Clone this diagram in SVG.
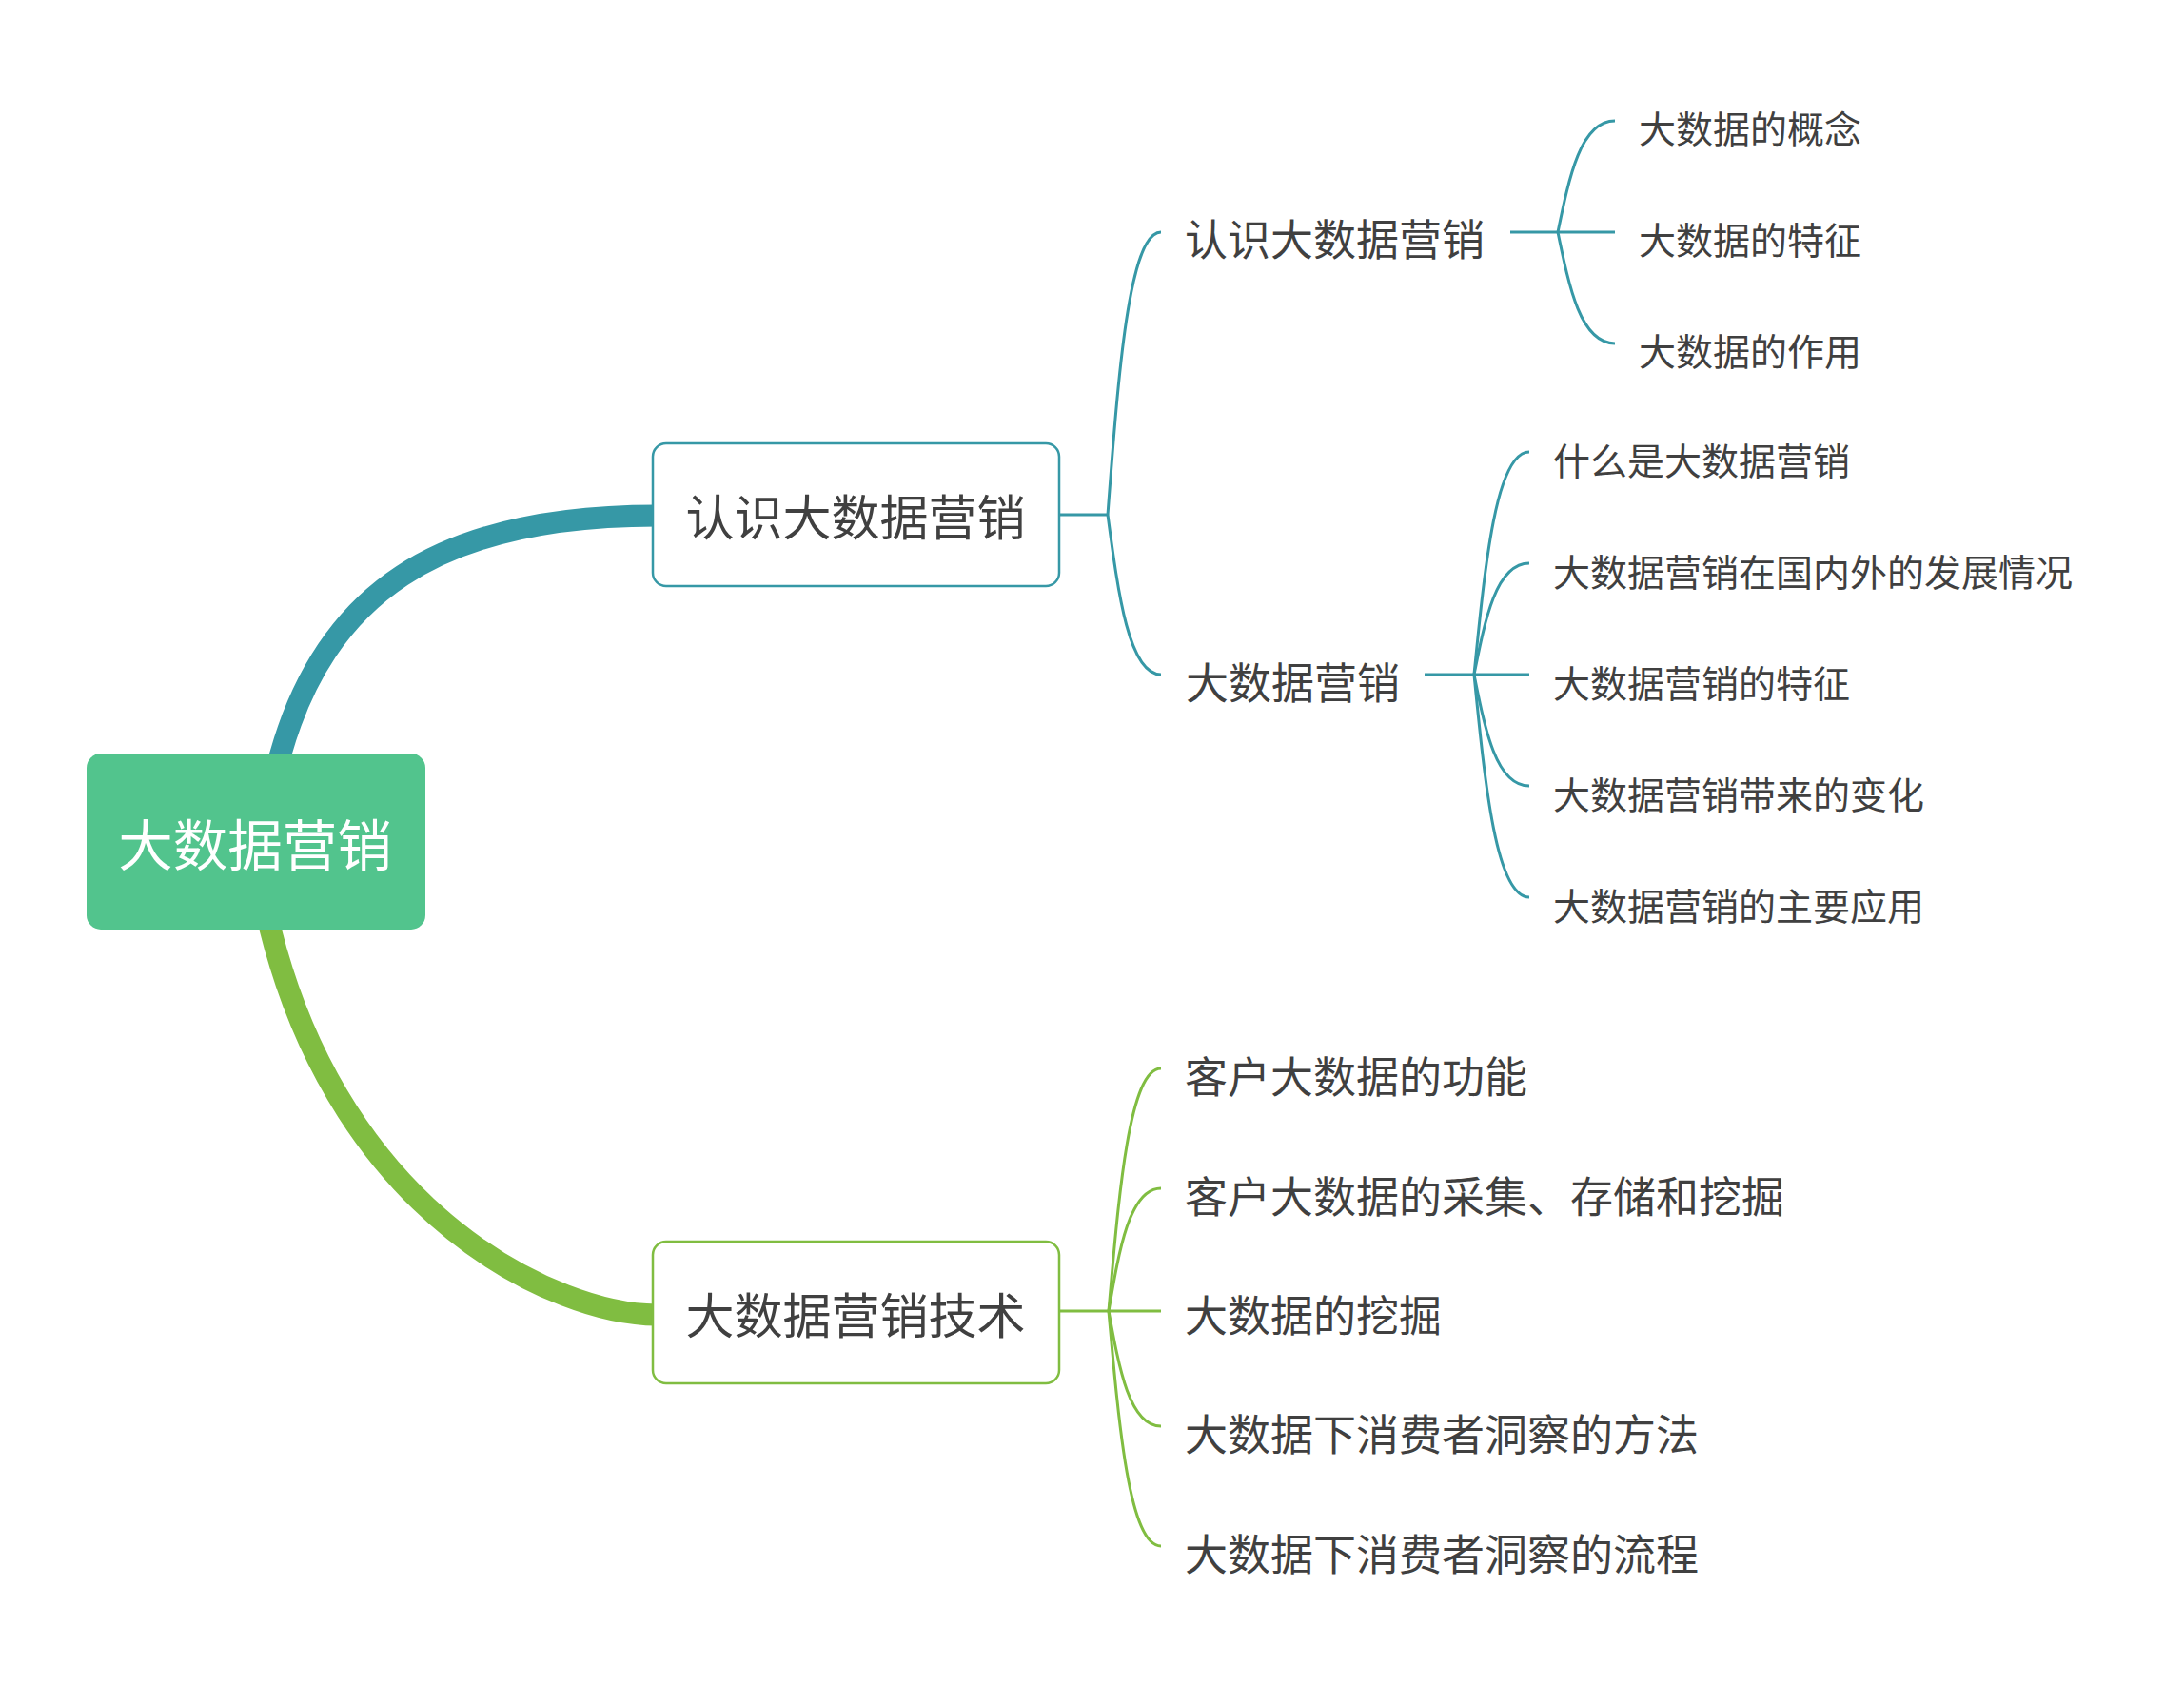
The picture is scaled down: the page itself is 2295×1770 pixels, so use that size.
<svg xmlns="http://www.w3.org/2000/svg" width="2295" height="1770" viewBox="0 0 2295 1770">
<style>
text{font-family:'Noto Sans CJK SC','Noto Sans',sans-serif;fill:#404040}
.t{stroke:#3698A6;fill:none;stroke-width:3}
.g{stroke:#80BD41;fill:none;stroke-width:3}
.l1{font-size:51px;text-anchor:middle}
.l2{font-size:45px}
.l3{font-size:39px}
</style>
<rect width="2295" height="1770" fill="#ffffff"/>
<g id="connectors">
<path d="M292 802 L295 792 C342 627 456 542 690 542" fill="none" stroke="#3698A6" stroke-width="23"/>
<path d="M282 968 L284 976 C360 1280 586 1382 690 1382" fill="none" stroke="#80BD41" stroke-width="23"/>
<path class="t" d="M1113 541 L1164 541"/>
<path class="t" d="M1164 541 C1175.2 392.5 1186.4 244 1220 244"/>
<path class="t" d="M1164 541 C1175.2 625 1186.4 709 1220 709"/>
<path class="t" d="M1587 244 L1697 244"/>
<path class="t" d="M1637 244 C1649 185.5 1661 127 1697 127"/>
<path class="t" d="M1637 244 C1649 302.5 1661 361 1697 361"/>
<path class="t" d="M1497 709 L1607 709"/>
<path class="t" d="M1549 709 C1560.6 592 1572.2 475 1607 475"/>
<path class="t" d="M1549 709 C1560.6 650.5 1572.2 592 1607 592"/>
<path class="t" d="M1549 709 C1560.6 767.5 1572.2 826 1607 826"/>
<path class="t" d="M1549 709 C1560.6 826 1572.2 943 1607 943"/>
<path class="g" d="M1113 1378 L1220 1378"/>
<path class="g" d="M1165 1378 C1176 1250.5 1187 1123 1220 1123"/>
<path class="g" d="M1165 1378 C1176 1313.5 1187 1249 1220 1249"/>
<path class="g" d="M1165 1378 C1176 1438.5 1187 1499 1220 1499"/>
<path class="g" d="M1165 1378 C1176 1501.5 1187 1625 1220 1625"/>
</g>
<g id="root">
<rect x="91" y="792" width="356" height="185" rx="15" fill="#52C48D"/>
<text x="268" y="910" font-size="57.5" text-anchor="middle" style="fill:#ffffff">大数据营销</text>
</g>
<g id="n1">
<rect x="686" y="466" width="427" height="150" rx="14" fill="#ffffff" stroke="#3698A6" stroke-width="2.5"/>
<text class="l1" x="899" y="563">认识大数据营销</text>
</g>
<g id="n2">
<rect x="686" y="1305" width="427" height="149" rx="14" fill="#ffffff" stroke="#80BD41" stroke-width="2.5"/>
<text class="l1" x="899" y="1402">大数据营销技术</text>
</g>
<g id="n1a"><text class="l2" x="1245" y="269">认识大数据营销</text></g>
<g id="n1b"><text class="l2" x="1246" y="735">大数据营销</text></g>
<g id="n1a1"><text class="l3" x="1722" y="150">大数据的概念</text></g>
<g id="n1a2"><text class="l3" x="1722" y="267">大数据的特征</text></g>
<g id="n1a3"><text class="l3" x="1722" y="384">大数据的作用</text></g>
<g id="n1b1"><text class="l3" x="1632" y="499">什么是大数据营销</text></g>
<g id="n1b2"><text class="l3" x="1632" y="616">大数据营销在国内外的发展情况</text></g>
<g id="n1b3"><text class="l3" x="1632" y="733">大数据营销的特征</text></g>
<g id="n1b4"><text class="l3" x="1632" y="850">大数据营销带来的变化</text></g>
<g id="n1b5"><text class="l3" x="1632" y="967">大数据营销的主要应用</text></g>
<g id="n2a"><text class="l2" x="1245" y="1149">客户大数据的功能</text></g>
<g id="n2b"><text class="l2" x="1245" y="1275">客户大数据的采集、存储和挖掘</text></g>
<g id="n2c"><text class="l2" x="1245" y="1400">大数据的挖掘</text></g>
<g id="n2d"><text class="l2" x="1245" y="1525">大数据下消费者洞察的方法</text></g>
<g id="n2e"><text class="l2" x="1245" y="1651">大数据下消费者洞察的流程</text></g>
</svg>
